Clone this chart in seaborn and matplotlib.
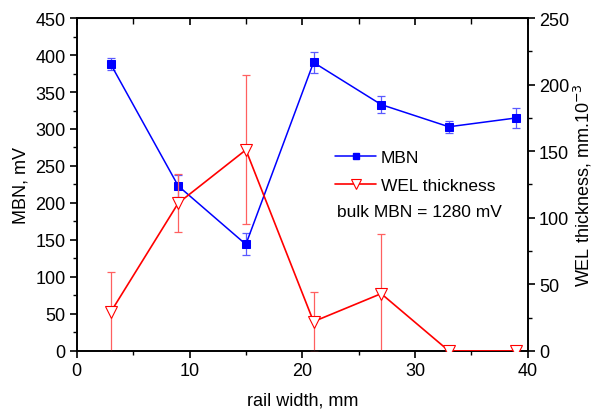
import numpy as np
import pandas as pd
import matplotlib
matplotlib.use("Agg")
import matplotlib.pyplot as plt
import seaborn as sns
from matplotlib.lines import Line2D
from matplotlib.ticker import MultipleLocator

# values
rail_width = [3, 9, 15, 21, 27, 33, 39]
mbn = [388, 223, 144, 390, 333, 303, 315]
mbn_err = [8, 15, 15, 14, 12, 8, 13]
wel = [29, 111, 151, 22, 43, 0, 0]
wel_err = [30, 22, 56, 22, 45, 0, 0]

df = pd.DataFrame({'rail width': rail_width, 'MBN': mbn, 'WEL': wel})

sns.set_style('ticks', {'text.color': 'black', 'axes.labelcolor': 'black',
                        'xtick.color': 'black', 'ytick.color': 'black'})
plt.rcParams['font.family'] = ['Liberation Sans', 'DejaVu Sans']
plt.rcParams['font.size'] = 13

fig, ax = plt.subplots(figsize=(5.95, 4.14), dpi=100)
fig.subplots_adjust(left=0.129, right=0.887, bottom=0.150, top=0.954)
ax2 = ax.twinx()

blue = '#0000ff'
red = '#ff0000'

# MBN on left axis
ax.errorbar(rail_width, mbn, yerr=mbn_err, fmt='none', ecolor='#5a5aff',
            elinewidth=0.9, capsize=3, capthick=0.9, zorder=2)
sns.lineplot(data=df, x='rail width', y='MBN', ax=ax, color=blue, lw=1.1,
             marker='s', markersize=5.5, markeredgecolor=blue, zorder=3)

# WEL thickness on right axis
ax2.errorbar(rail_width, wel, yerr=wel_err, fmt='none', ecolor='#ff6060',
             elinewidth=0.9, capsize=3, capthick=0.9, zorder=2)
sns.lineplot(data=df, x='rail width', y='WEL', ax=ax2, color=red, lw=1.2,
             marker='v', markersize=9, markerfacecolor='white',
             markeredgecolor=red, markeredgewidth=0.8, zorder=3)

ax.set_xlim(0, 40)
ax.set_ylim(0, 450)
ax2.set_ylim(0, 250)
ax.xaxis.set_major_locator(MultipleLocator(10))
ax.xaxis.set_minor_locator(MultipleLocator(5))
ax.yaxis.set_major_locator(MultipleLocator(50))
ax.yaxis.set_minor_locator(MultipleLocator(25))
ax2.yaxis.set_major_locator(MultipleLocator(50))
ax2.yaxis.set_minor_locator(MultipleLocator(25))

ax.set_xlabel('rail width, mm', fontsize=13, labelpad=9)
ax.set_ylabel('MBN, mV', fontsize=13, labelpad=4)
ax2.set_ylabel('WEL thickness, mm.10$^{-3}$', fontsize=13, labelpad=2)

for a in (ax, ax2):
    for s in a.spines.values():
        s.set_visible(True)
        s.set_linewidth(1.2)
        s.set_color('black')
ax.tick_params(axis='both', which='major', direction='out', length=5, width=1.2,
               labelsize=13, colors='black', pad=3)
ax.tick_params(axis='both', which='minor', direction='out', length=3, width=1)
ax2.tick_params(axis='y', which='major', direction='out', length=5, width=1.2,
                labelsize=13, pad=3, colors='black')
ax2.tick_params(axis='y', which='minor', direction='out', length=3, width=1)

# top ticks pointing inward
sec = ax.secondary_xaxis('top')
sec.xaxis.set_major_locator(MultipleLocator(10))
sec.xaxis.set_minor_locator(MultipleLocator(5))
sec.tick_params(which='major', direction='in', length=5, width=1.2, labeltop=False)
sec.tick_params(which='minor', direction='in', length=4, width=1)
ax.tick_params(axis='x', which='both', top=False)

handles = [
    Line2D([], [], color=blue, lw=1.1, marker='s', markersize=5),
    Line2D([], [], color=red, lw=1.2, marker='v', markersize=7,
           markerfacecolor='white', markeredgecolor=red, markeredgewidth=0.8),
]
ax.legend(handles, ['MBN', 'WEL thickness'], loc='upper left',
          bbox_to_anchor=(0.545, 0.64), frameon=False, fontsize=12.5,
          handlelength=2.4, handletextpad=0.25, labelspacing=0.75,
          borderpad=0.2)
ax.text(0.578, 0.42, 'bulk MBN = 1280 mV', transform=ax.transAxes,
        fontsize=12.5, va='center', color='black')

fig.savefig('out.png', dpi=100)
